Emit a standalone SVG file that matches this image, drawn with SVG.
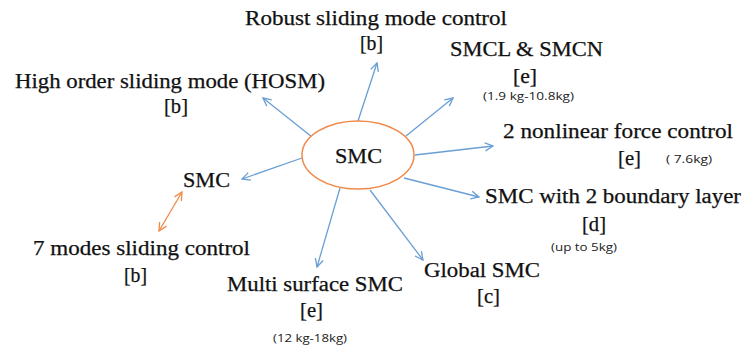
<svg xmlns="http://www.w3.org/2000/svg" width="743" height="349" viewBox="0 0 743 349">
<style>
.c{stroke:#6a9fd4;stroke-width:1.3;fill:none;marker-end:url(#ab)}
.o{stroke:#ef8a4a;stroke-width:1.3;fill:none;marker-start:url(#ao);marker-end:url(#ao)}
</style>
<defs>
<marker id="ab" viewBox="0 0 10 10" refX="9" refY="5" markerWidth="10" markerHeight="10" markerUnits="userSpaceOnUse" orient="auto">
<path d="M1,1 L9,5 L1,9" fill="none" stroke="#6a9fd4" stroke-width="1.3"/>
</marker>
<marker id="ao" viewBox="0 0 10 10" refX="9" refY="5" markerWidth="10" markerHeight="10" markerUnits="userSpaceOnUse" orient="auto-start-reverse">
<path d="M1,1 L9,5 L1,9" fill="none" stroke="#ef8a4a" stroke-width="1.3"/>
</marker>
</defs>
<rect width="743" height="349" fill="#fff"/>
<g id="connectors">
<line class="c" x1="358" y1="121" x2="377" y2="63"/>
<line class="c" x1="312" y1="137" x2="263" y2="98"/>
<line class="c" x1="406" y1="136" x2="453" y2="98"/>
<line class="c" x1="415" y1="155" x2="493" y2="146"/>
<line class="c" x1="302" y1="158" x2="242" y2="179"/>
<line class="c" x1="404" y1="178" x2="479" y2="197"/>
<line class="c" x1="370" y1="190" x2="423" y2="260"/>
<line class="c" x1="340" y1="188" x2="317" y2="267"/>
<line class="o" x1="182" y1="192" x2="159" y2="231"/>
</g>
<g font-family="Liberation Serif, Times New Roman, serif" font-size="20.5" fill="#111" stroke="#111" stroke-width="0.25">
<g id="center">
<ellipse cx="358" cy="155" rx="56" ry="34" fill="#fff" stroke="#ef8a4a" stroke-width="1.5"/>
<text x="335" y="163" textLength="47" lengthAdjust="spacingAndGlyphs">SMC</text>
</g>
<g id="robust">
<text x="245" y="25" textLength="262" lengthAdjust="spacingAndGlyphs">Robust sliding mode control</text>
<text x="360" y="50" textLength="23" lengthAdjust="spacingAndGlyphs">[b]</text>
</g>
<g id="hosm">
<text x="15" y="88" textLength="310" lengthAdjust="spacingAndGlyphs">High order sliding mode (HOSM)</text>
<text x="164" y="113" textLength="24" lengthAdjust="spacingAndGlyphs">[b]</text>
</g>
<g id="smcl">
<text x="450" y="56" textLength="153" lengthAdjust="spacingAndGlyphs">SMCL &amp; SMCN</text>
<text x="513" y="83" textLength="24" lengthAdjust="spacingAndGlyphs">[e]</text>
<text x="483" y="100" font-family="Open Sans, Liberation Sans, sans-serif" font-size="10.5" fill="#222" stroke="none" textLength="91" lengthAdjust="spacingAndGlyphs">(1.9 kg-10.8kg)</text>
</g>
<g id="nonlinear">
<text x="503" y="138" textLength="230" lengthAdjust="spacingAndGlyphs">2 nonlinear force control</text>
<text x="618" y="165" textLength="23" lengthAdjust="spacingAndGlyphs">[e]</text>
<text x="666" y="163" font-family="Open Sans, Liberation Sans, sans-serif" font-size="10.5" fill="#222" stroke="none" textLength="46" lengthAdjust="spacingAndGlyphs">( 7.6kg)</text>
</g>
<g id="smc-left">
<text x="183" y="187" textLength="47" lengthAdjust="spacingAndGlyphs">SMC</text>
</g>
<g id="seven-modes">
<text x="33" y="255" textLength="217" lengthAdjust="spacingAndGlyphs">7 modes sliding control</text>
<text x="124" y="282" textLength="23" lengthAdjust="spacingAndGlyphs">[b]</text>
</g>
<g id="multi">
<text x="227" y="291" textLength="176" lengthAdjust="spacingAndGlyphs">Multi surface SMC</text>
<text x="300" y="317" textLength="23" lengthAdjust="spacingAndGlyphs">[e]</text>
<text x="273" y="342" font-family="Open Sans, Liberation Sans, sans-serif" font-size="10.5" fill="#222" stroke="none" textLength="74" lengthAdjust="spacingAndGlyphs">(12 kg-18kg)</text>
</g>
<g id="boundary">
<text x="485" y="203" textLength="256" lengthAdjust="spacingAndGlyphs">SMC with 2 boundary layer</text>
<text x="582" y="231" textLength="24" lengthAdjust="spacingAndGlyphs">[d]</text>
<text x="551" y="251" font-family="Open Sans, Liberation Sans, sans-serif" font-size="10.5" fill="#222" stroke="none" textLength="66" lengthAdjust="spacingAndGlyphs">(up to 5kg)</text>
</g>
<g id="global">
<text x="424" y="277" textLength="116" lengthAdjust="spacingAndGlyphs">Global SMC</text>
<text x="477" y="303" textLength="23" lengthAdjust="spacingAndGlyphs">[c]</text>
</g>
</g>
</svg>
